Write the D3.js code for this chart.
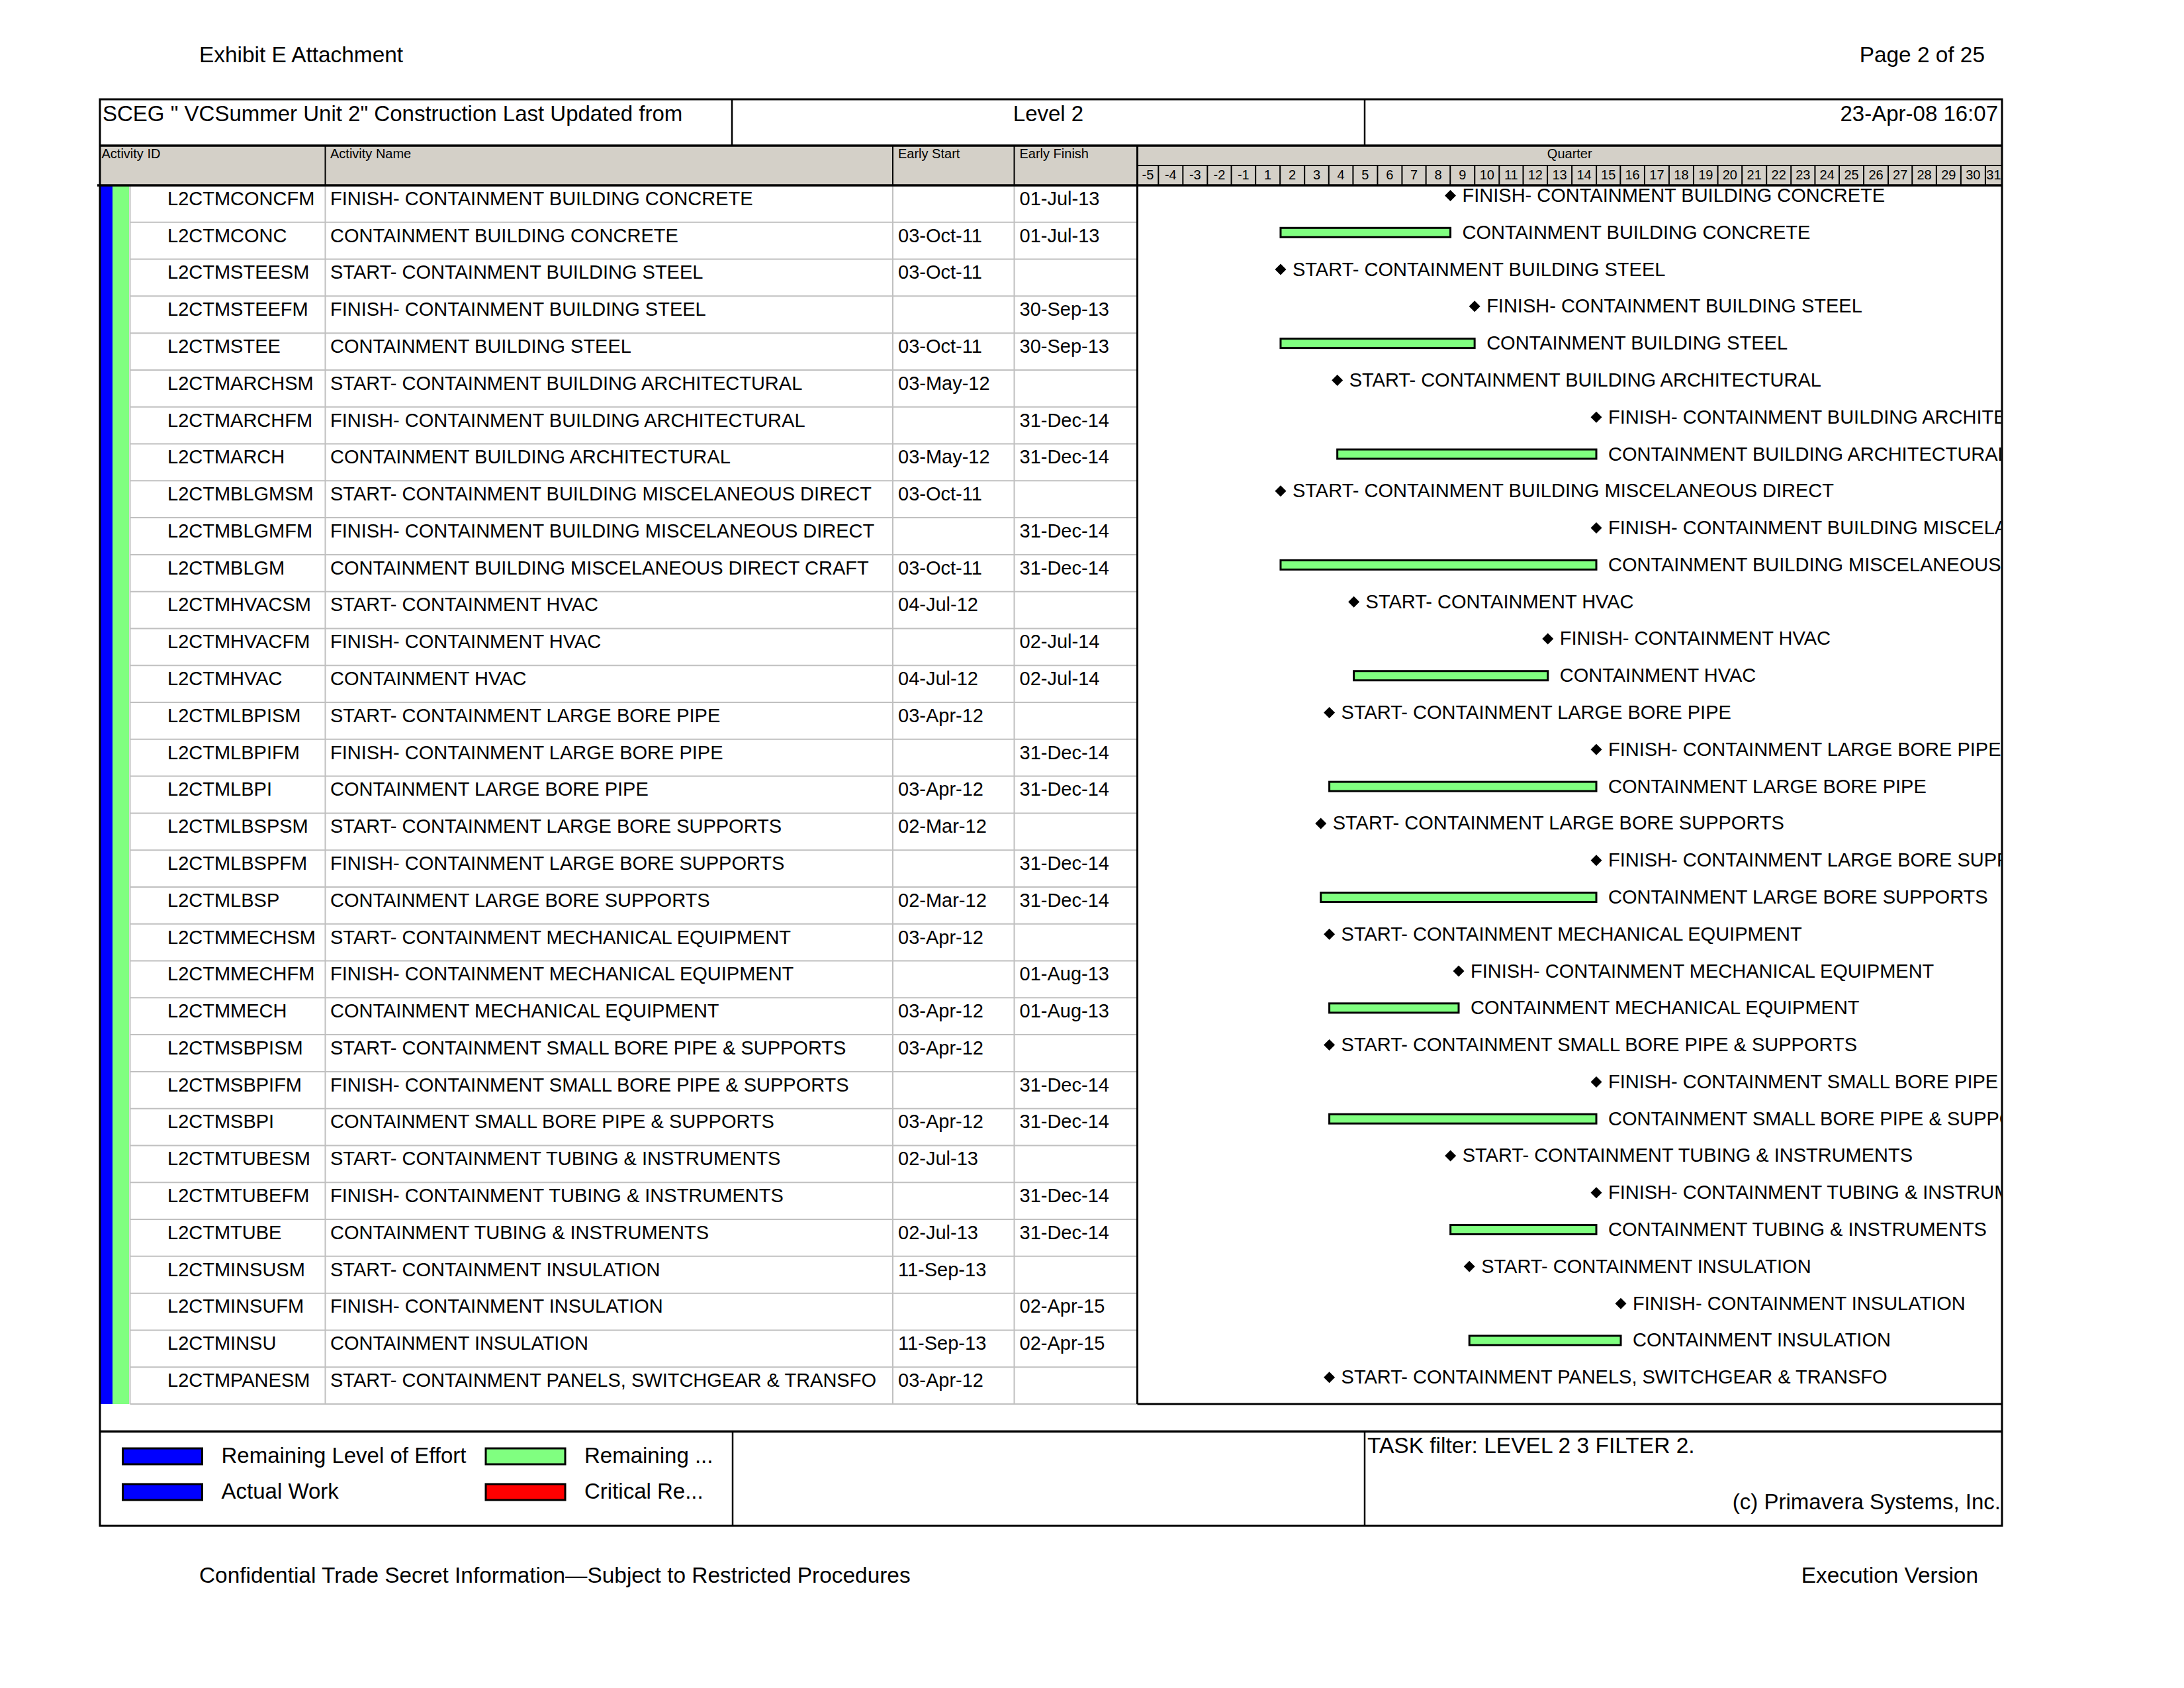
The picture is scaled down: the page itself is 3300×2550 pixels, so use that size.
<!DOCTYPE html>
<html>
<head>
<meta charset="utf-8">
<script src="https://cdn.jsdelivr.net/npm/d3@7"></script>
<style>
  html, body { margin: 0; padding: 0; background: #fff; }
  svg { display: block; }
</style>
</head>
<body>
<script>
// ---------------- DATA ----------------
const activityIds = [
  "L2CTMCONCFM","L2CTMCONC","L2CTMSTEESM","L2CTMSTEEFM","L2CTMSTEE",
  "L2CTMARCHSM","L2CTMARCHFM","L2CTMARCH","L2CTMBLGMSM","L2CTMBLGMFM",
  "L2CTMBLGM","L2CTMHVACSM","L2CTMHVACFM","L2CTMHVAC","L2CTMLBPISM",
  "L2CTMLBPIFM","L2CTMLBPI","L2CTMLBSPSM","L2CTMLBSPFM","L2CTMLBSP",
  "L2CTMMECHSM","L2CTMMECHFM","L2CTMMECH","L2CTMSBPISM","L2CTMSBPIFM",
  "L2CTMSBPI","L2CTMTUBESM","L2CTMTUBEFM","L2CTMTUBE","L2CTMINSUSM",
  "L2CTMINSUFM","L2CTMINSU","L2CTMPANESM"
];
const activityNames = [
  "FINISH- CONTAINMENT BUILDING CONCRETE",
  "CONTAINMENT BUILDING CONCRETE",
  "START- CONTAINMENT BUILDING STEEL",
  "FINISH- CONTAINMENT BUILDING STEEL",
  "CONTAINMENT BUILDING STEEL",
  "START- CONTAINMENT BUILDING ARCHITECTURAL",
  "FINISH- CONTAINMENT BUILDING ARCHITECTURAL",
  "CONTAINMENT BUILDING ARCHITECTURAL",
  "START- CONTAINMENT BUILDING MISCELANEOUS DIRECT",
  "FINISH- CONTAINMENT BUILDING MISCELANEOUS DIRECT",
  "CONTAINMENT BUILDING MISCELANEOUS DIRECT CRAFT",
  "START- CONTAINMENT HVAC",
  "FINISH- CONTAINMENT HVAC",
  "CONTAINMENT HVAC",
  "START- CONTAINMENT LARGE BORE PIPE",
  "FINISH- CONTAINMENT LARGE BORE PIPE",
  "CONTAINMENT LARGE BORE PIPE",
  "START- CONTAINMENT LARGE BORE SUPPORTS",
  "FINISH- CONTAINMENT LARGE BORE SUPPORTS",
  "CONTAINMENT LARGE BORE SUPPORTS",
  "START- CONTAINMENT MECHANICAL EQUIPMENT",
  "FINISH- CONTAINMENT MECHANICAL EQUIPMENT",
  "CONTAINMENT MECHANICAL EQUIPMENT",
  "START- CONTAINMENT SMALL BORE PIPE & SUPPORTS",
  "FINISH- CONTAINMENT SMALL BORE PIPE & SUPPORTS",
  "CONTAINMENT SMALL BORE PIPE & SUPPORTS",
  "START- CONTAINMENT TUBING & INSTRUMENTS",
  "FINISH- CONTAINMENT TUBING & INSTRUMENTS",
  "CONTAINMENT TUBING & INSTRUMENTS",
  "START- CONTAINMENT INSULATION",
  "FINISH- CONTAINMENT INSULATION",
  "CONTAINMENT INSULATION",
  "START- CONTAINMENT PANELS, SWITCHGEAR & TRANSFO"
];
const earlyStarts = [
  "","03-Oct-11","03-Oct-11","","03-Oct-11",
  "03-May-12","","03-May-12","03-Oct-11","",
  "03-Oct-11","04-Jul-12","","04-Jul-12","03-Apr-12",
  "","03-Apr-12","02-Mar-12","","02-Mar-12",
  "03-Apr-12","","03-Apr-12","03-Apr-12","",
  "03-Apr-12","02-Jul-13","","02-Jul-13","11-Sep-13",
  "","11-Sep-13","03-Apr-12"
];
const earlyFinishes = [
  "01-Jul-13","01-Jul-13","","30-Sep-13","30-Sep-13",
  "","31-Dec-14","31-Dec-14","","31-Dec-14",
  "31-Dec-14","","02-Jul-14","02-Jul-14","",
  "31-Dec-14","31-Dec-14","","31-Dec-14","31-Dec-14",
  "","01-Aug-13","01-Aug-13","","31-Dec-14",
  "31-Dec-14","","31-Dec-14","31-Dec-14","",
  "02-Apr-15","02-Apr-15",""
];
// timescale: first and last visible quarter boundaries
const timeStart = "01-Apr-10";
const timeEnd = "01-Apr-19";
const quarterLabels = ["-5","-4","-3","-2","-1",
  "1","2","3","4","5","6","7","8","9","10","11","12","13","14","15","16",
  "17","18","19","20","21","22","23","24","25","26","27","28","29","30","31"];
const columnHeaders = ["Activity ID","Activity Name","Early Start","Early Finish"];
const legendLabels = ["Remaining Level of Effort","Remaining ...","Actual Work","Critical Re..."];
const legendColors = ["#0000FF","#80FF80","#0000FF","#FF0000"];
const titleLeft = "SCEG \" VCSummer Unit 2\" Construction Last Updated from";
const titleMid = "Level 2";
const titleRight = "23-Apr-08 16:07";
const pageHeaderLeft = "Exhibit E Attachment";
const pageHeaderRight = "Page 2 of 25";
const pageFooterLeft = "Confidential Trade Secret Information\u2014Subject to Restricted Procedures";
const pageFooterRight = "Execution Version";
const filterText = "TASK filter: LEVEL 2 3 FILTER 2.";
const copyrightText = "(c) Primavera Systems, Inc.";

// ---------------- LAYOUT ----------------
const W = 3300, H = 2550;
const FONT = "'Liberation Sans', Arial, Helvetica, sans-serif";
const L = {
  left: 151, right: 3025, top: 150, titleBottom: 220, midHead: 250, headBottom: 280,
  rowsBottom: 2121, legendTop: 2162.5, bottom: 2305,
  titleDiv1: 1106, titleDiv2: 2062,
  colId: 196.5, colName: 491.5, colStart: 1349, colFinish: 1532.5, gantt: 1718.5,
  ganttX0: 1713.7, ganttX1: 3036.1
};
const GRID = "#C0C0C0", HEAD = "#D4D0C8", BAR = "#80FF80";
const ROWFONT = 29;

const parse = d3.utcParse("%d-%b-%y");
const rows = activityIds.map((id, i) => {
  const s = earlyStarts[i] ? parse(earlyStarts[i]) : null;
  const f = earlyFinishes[i] ? d3.utcHour.offset(parse(earlyFinishes[i]), 17) : null;
  return { i, id, name: activityNames[i], es: earlyStarts[i], ef: earlyFinishes[i], s, f,
    type: s && f ? "bar" : (s ? "ms" : "mf") };
});

const x = d3.scaleUtc().domain([parse(timeStart), parse(timeEnd)]).range([L.ganttX0, L.ganttX1]);
const y = d3.scaleBand().domain(d3.range(rows.length)).range([L.headBottom, L.rowsBottom]).padding(0);
const rowH = y.bandwidth();

const svg = d3.select("body").append("svg")
  .attr("width", W).attr("height", H)
  .style("font-family", FONT);
svg.append("rect").attr("width", W).attr("height", H).attr("fill", "#fff");

function line(g, x1, y1, x2, y2, color, w) {
  g.append("line").attr("x1", x1).attr("y1", y1).attr("x2", x2).attr("y2", y2)
    .attr("stroke", color).attr("stroke-width", w);
}
function text(g, str, tx, ty, size, anchor) {
  return g.append("text").attr("x", tx).attr("y", ty).attr("font-size", size)
    .attr("text-anchor", anchor || "start").attr("fill", "#000").text(str);
}

// ---------- page header / footer ----------
const page = svg.append("g");
text(page, pageHeaderLeft, 301, 94, 33.4);
text(page, pageHeaderRight, 2999, 94, 33.4, "end");
text(page, pageFooterLeft, 301, 2391, 33.4);
text(page, pageFooterRight, 2989, 2391, 33.4, "end");

// ---------- title row ----------
const title = svg.append("g");
text(title, titleLeft, 155, 183, 33);
text(title, titleMid, (L.titleDiv1 + L.titleDiv2) / 2, 183, 33, "middle");
text(title, titleRight, 3019, 183, 33, "end");

// ---------- column header ----------
const head = svg.append("g");
head.append("rect").attr("x", L.left).attr("y", L.titleBottom).attr("width", L.right - L.left)
  .attr("height", L.headBottom - L.titleBottom).attr("fill", HEAD);
const headX = [153.5, L.colName + 7.5, L.colStart + 8, L.colFinish + 8];
columnHeaders.forEach((h, k) => text(head, h, headX[k], 239.3, 20));
text(head, "Quarter", (L.gantt + L.right) / 2, 239.3, 20, "middle");

// quarter cells
const qStarts = d3.utcMonth.every(3).range(parse(timeStart), parse(timeEnd));
const quarters = qStarts.map((d, k) => {
  const a = x(d), b = x(d3.utcMonth.offset(d, 3));
  const va = Math.max(a, L.gantt), vb = Math.min(b, L.right);
  return { label: quarterLabels[k], a, b, va, vb };
});
const qg = head.append("g");
qg.selectAll("line.q").data(quarters.filter(q => q.a > L.gantt + 2)).join("line")
  .attr("x1", q => q.a).attr("x2", q => q.a).attr("y1", L.midHead).attr("y2", L.headBottom)
  .attr("stroke", "#000").attr("stroke-width", 2);
qg.selectAll("text").data(quarters).join("text")
  .attr("x", q => (q.va + q.vb) / 2).attr("y", 271).attr("font-size", 20)
  .attr("text-anchor", "middle").text(q => q.label);
line(head, L.gantt, L.midHead, L.right, L.midHead, "#000", 2);

// ---------- table body ----------
const body = svg.append("g");
body.append("rect").attr("x", 152).attr("y", L.headBottom).attr("width", 18)
  .attr("height", L.rowsBottom - L.headBottom).attr("fill", "#0000FF");
body.append("rect").attr("x", 170).attr("y", L.headBottom).attr("width", 25)
  .attr("height", L.rowsBottom - L.headBottom).attr("fill", BAR);
// row lines
body.selectAll("line.r").data(rows).join("line")
  .attr("x1", L.colId).attr("x2", L.gantt)
  .attr("y1", d => y(d.i) + rowH).attr("y2", d => y(d.i) + rowH)
  .attr("stroke", GRID).attr("stroke-width", 2);
[L.colId, L.colName, L.colStart, L.colFinish].forEach(cx =>
  line(body, cx, L.headBottom, cx, L.rowsBottom, GRID, 2));
// header column dividers
[L.colName, L.colStart, L.colFinish].forEach(cx =>
  line(head, cx, L.titleBottom, cx, L.headBottom, "#000", 2));

const cells = body.selectAll("g.row").data(rows).join("g")
  .attr("transform", d => `translate(0,${y(d.i) + 29.8})`)
  .attr("font-size", ROWFONT);
cells.append("text").attr("x", 253).text(d => d.id);
cells.append("text").attr("x", L.colName + 7.5).text(d => d.name);
cells.append("text").attr("x", L.colStart + 8).text(d => d.es);
cells.append("text").attr("x", L.colFinish + 8).text(d => d.ef);

// ---------- gantt ----------
svg.append("clipPath").attr("id", "gclip").append("rect")
  .attr("x", L.gantt + 1.5).attr("y", L.headBottom + 1.5)
  .attr("width", L.right - L.gantt - 3).attr("height", L.rowsBottom - L.headBottom - 3);
const gantt = svg.append("g").attr("clip-path", "url(#gclip)");
const bars = rows.filter(d => d.type === "bar");
gantt.selectAll("rect.bar").data(bars).join("rect")
  .attr("x", d => x(d.s)).attr("width", d => x(d.f) - x(d.s))
  .attr("y", d => y(d.i) + 8.5).attr("height", 14)
  .attr("fill", BAR).attr("stroke", "#000").attr("stroke-width", 3);
const ms = rows.filter(d => d.type !== "bar");
const diamond = 8.5;
gantt.selectAll("path.ms").data(ms).join("path")
  .attr("d", d => {
    const cx = x(d.type === "ms" ? d.s : d.f), cy = y(d.i) + 15.5;
    return `M${cx},${cy - diamond}L${cx + diamond},${cy}L${cx},${cy + diamond}L${cx - diamond},${cy}Z`;
  })
  .attr("fill", "#000");
gantt.selectAll("text.lbl").data(rows).join("text")
  .attr("x", d => x(d.type === "ms" ? d.s : d.f) + 18)
  .attr("y", d => y(d.i) + 25)
  .attr("font-size", ROWFONT).text(d => d.name);

// ---------- legend ----------
const leg = svg.append("g");
const legPos = [[185.5, 2188], [734, 2188], [185.5, 2242], [734, 2242]];
legendLabels.forEach((lab, k) => {
  const [lx, ly] = legPos[k];
  leg.append("rect").attr("x", lx).attr("y", ly).attr("width", 120).attr("height", 24)
    .attr("fill", legendColors[k]).attr("stroke", "#000").attr("stroke-width", 3);
  text(leg, lab, lx + 149, ly + 22, 33);
});
text(leg, filterText, 2066, 2195, 33.5);
text(leg, copyrightText, 3023, 2280, 33, "end");

// ---------- frame lines ----------
const fr = svg.append("g");
fr.append("rect").attr("x", L.left).attr("y", L.top).attr("width", L.right - L.left)
  .attr("height", L.bottom - L.top).attr("fill", "none").attr("stroke", "#000").attr("stroke-width", 3);
line(fr, L.titleDiv1, L.top, L.titleDiv1, L.titleBottom, "#000", 2.5);
line(fr, L.titleDiv2, L.top, L.titleDiv2, L.titleBottom, "#000", 2.5);
line(fr, L.left, L.titleBottom, L.right, L.titleBottom, "#000", 3.5);
line(fr, L.left - 4, L.headBottom, L.right, L.headBottom, "#000", 3.5);
line(fr, L.gantt, L.titleBottom, L.gantt, L.rowsBottom, "#000", 3);
line(fr, L.gantt, L.rowsBottom, L.right, L.rowsBottom, "#000", 3);
line(fr, L.left, L.legendTop, L.right, L.legendTop, "#000", 3.5);
line(fr, 1107, L.legendTop, 1107, L.bottom, "#000", 2.5);
line(fr, L.titleDiv2, L.legendTop, L.titleDiv2, L.bottom, "#000", 2.5);
</script>
</body>
</html>
